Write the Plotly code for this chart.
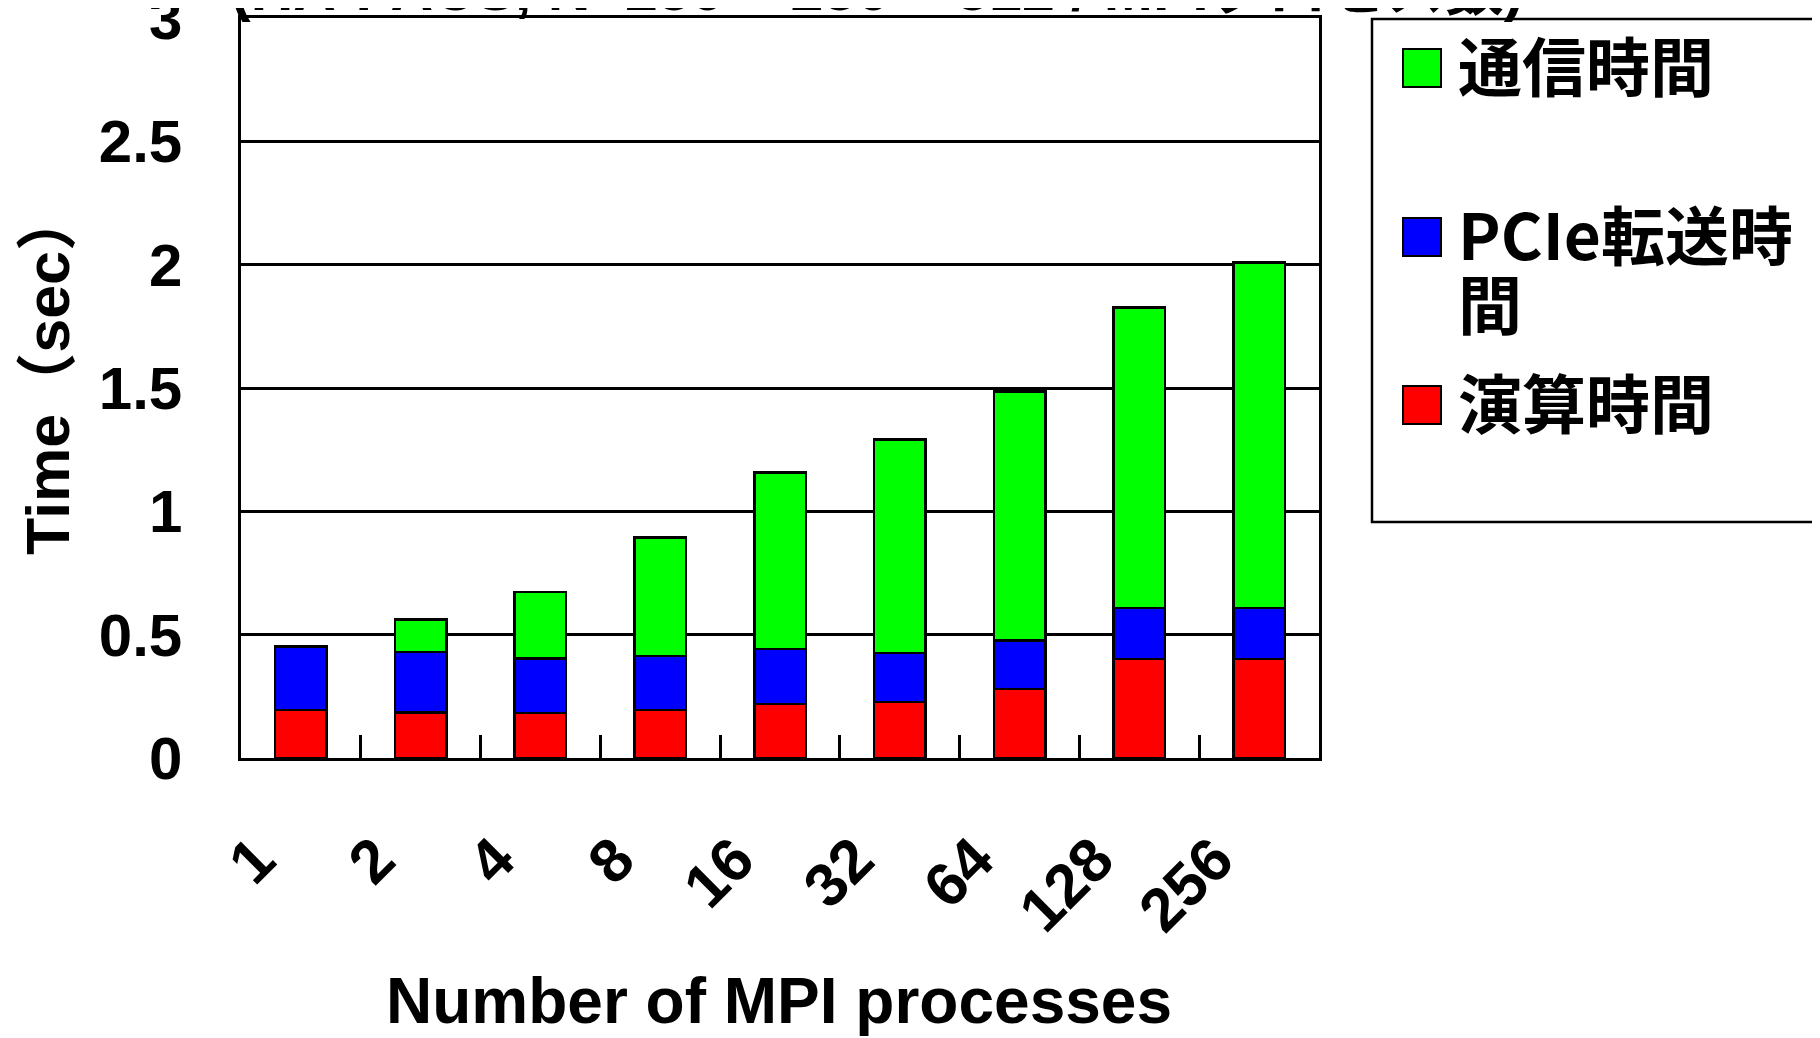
import plotly.graph_objects as go

# ---- data ----
categories = ["1", "2", "4", "8", "16", "32", "64", "128", "256"]
compute_time = [0.194, 0.184, 0.183, 0.194, 0.218, 0.228, 0.279, 0.402, 0.402]
pcie_time = [0.258, 0.245, 0.221, 0.220, 0.223, 0.198, 0.197, 0.207, 0.207]
comm_time = [0.0, 0.133, 0.269, 0.480, 0.717, 0.865, 1.010, 1.218, 1.399]

series_names = ["演算時間", "PCIe転送時間", "通信時間"]
series_colors = ["#FF0000", "#0000FF", "#00FF00"]
# legend order (top to bottom) and line wrapping as in the reference
legend_lines = [["通信時間"], ["PCIe転送時", "間"], ["演算時間"]]
legend_colors = ["#00FF00", "#0000FF", "#FF0000"]
y_ticks = [0, 0.5, 1, 1.5, 2, 2.5, 3]
y_ticklabels = ["0", "0.5", "1", "1.5", "2", "2.5", "3"]
title_text = "(HA-PACS, N=256 × 256 × 512 / MPIプロセス数)"
x_title = "Number of MPI processes"
y_title = "Time（sec）"

FONT = "Liberation Sans, Arial, Noto Sans CJK JP"

# plot area in page pixels
plot_l, plot_r, plot_t, plot_b = 233, 1311, 10, 750
W, H = 1820, 1038

def px_x(x):
    return (x - plot_l) / (plot_r - plot_l)

def px_y(y):
    return (plot_b - y) / (plot_b - plot_t)

fig = go.Figure()
for name, vals, col in zip(series_names, [compute_time, pcie_time, comm_time], series_colors):
    fig.add_trace(go.Bar(
        x=categories, y=vals, name=name,
        marker=dict(color=col, line=dict(color="black", width=2.5)),
        showlegend=False,
    ))

fig.update_layout(
    barmode="stack",
    bargap=0.57,
    width=W, height=H,
    margin=dict(l=plot_l, r=W - plot_r, t=plot_t, b=H - plot_b, autoexpand=False),
    paper_bgcolor="white", plot_bgcolor="white",
    font=dict(family=FONT, size=60, color="black", weight="bold"),
)

fig.update_xaxes(
    type="category",
    showline=True, linecolor="black", linewidth=3, mirror=True,
    ticks="inside", tickson="boundaries", ticklen=23, tickwidth=2.5, tickcolor="black",
    tickangle=-45,
    tickfont=dict(family=FONT, size=61, color="black", weight="bold"),
    ticklabelstandoff=38,
    ticklabelshift=-44,
    ticklabeloverflow="allow",
    showgrid=False,
)
fig.update_yaxes(
    range=[0, 3],
    tickvals=y_ticks, ticktext=y_ticklabels,
    showline=True, linecolor="black", linewidth=2.5, mirror=True,
    showgrid=True, gridcolor="black", gridwidth=2.8,
    zeroline=False,
    ticks="",
    ticklabelstandoff=44,
    ticklabeloverflow="allow",
    tickfont=dict(family=FONT, size=60, color="black", weight="bold"),
)

# axis titles
fig.add_annotation(
    text=x_title, xref="paper", yref="paper", x=px_x(771), y=px_y(993),
    xanchor="center", yanchor="middle", showarrow=False,
    font=dict(family=FONT, size=64, color="black", weight="bold"),
)
fig.add_annotation(
    text=y_title, xref="paper", yref="paper", x=px_x(40), y=px_y(365),
    xanchor="center", yanchor="middle", textangle=-90, showarrow=False,
    font=dict(family=FONT, size=61, color="black", weight="bold"),
)

# title (mostly outside the visible page area, as in the reference)
fig.add_annotation(
    text=title_text, xref="paper", yref="paper", x=px_x(221), y=1,
    xanchor="left", yanchor="bottom", yshift=-7, showarrow=False,
    font=dict(family=FONT, size=59, color="black", weight="bold"),
)

# legend box drawn manually
fig.add_shape(type="rect", xref="paper", yref="paper",
              x0=px_x(1364), x1=px_x(1840), y0=px_y(514), y1=px_y(11),
              line=dict(color="black", width=2.5), fillcolor="rgba(0,0,0,0)")

legend_centers = [59, 228, 396]
line_gap = 69
for lines, col, yc in zip(legend_lines, legend_colors, legend_centers):
    fig.add_shape(type="rect", xref="paper", yref="paper",
                  x0=px_x(1395), x1=px_x(1433), y0=px_y(yc + 20), y1=px_y(yc - 18),
                  line=dict(color="black", width=2), fillcolor=col)
    for i, ln in enumerate(lines):
        fig.add_annotation(text=ln, xref="paper", yref="paper",
                           x=px_x(1448), y=px_y(yc - 4 + i * line_gap),
                           xanchor="left", yanchor="middle",
                           align="left", showarrow=False,
                           font=dict(family="Noto Sans CJK JP", size=64,
                                     color="black", weight="bold"))

fig.write_html("out.html")
